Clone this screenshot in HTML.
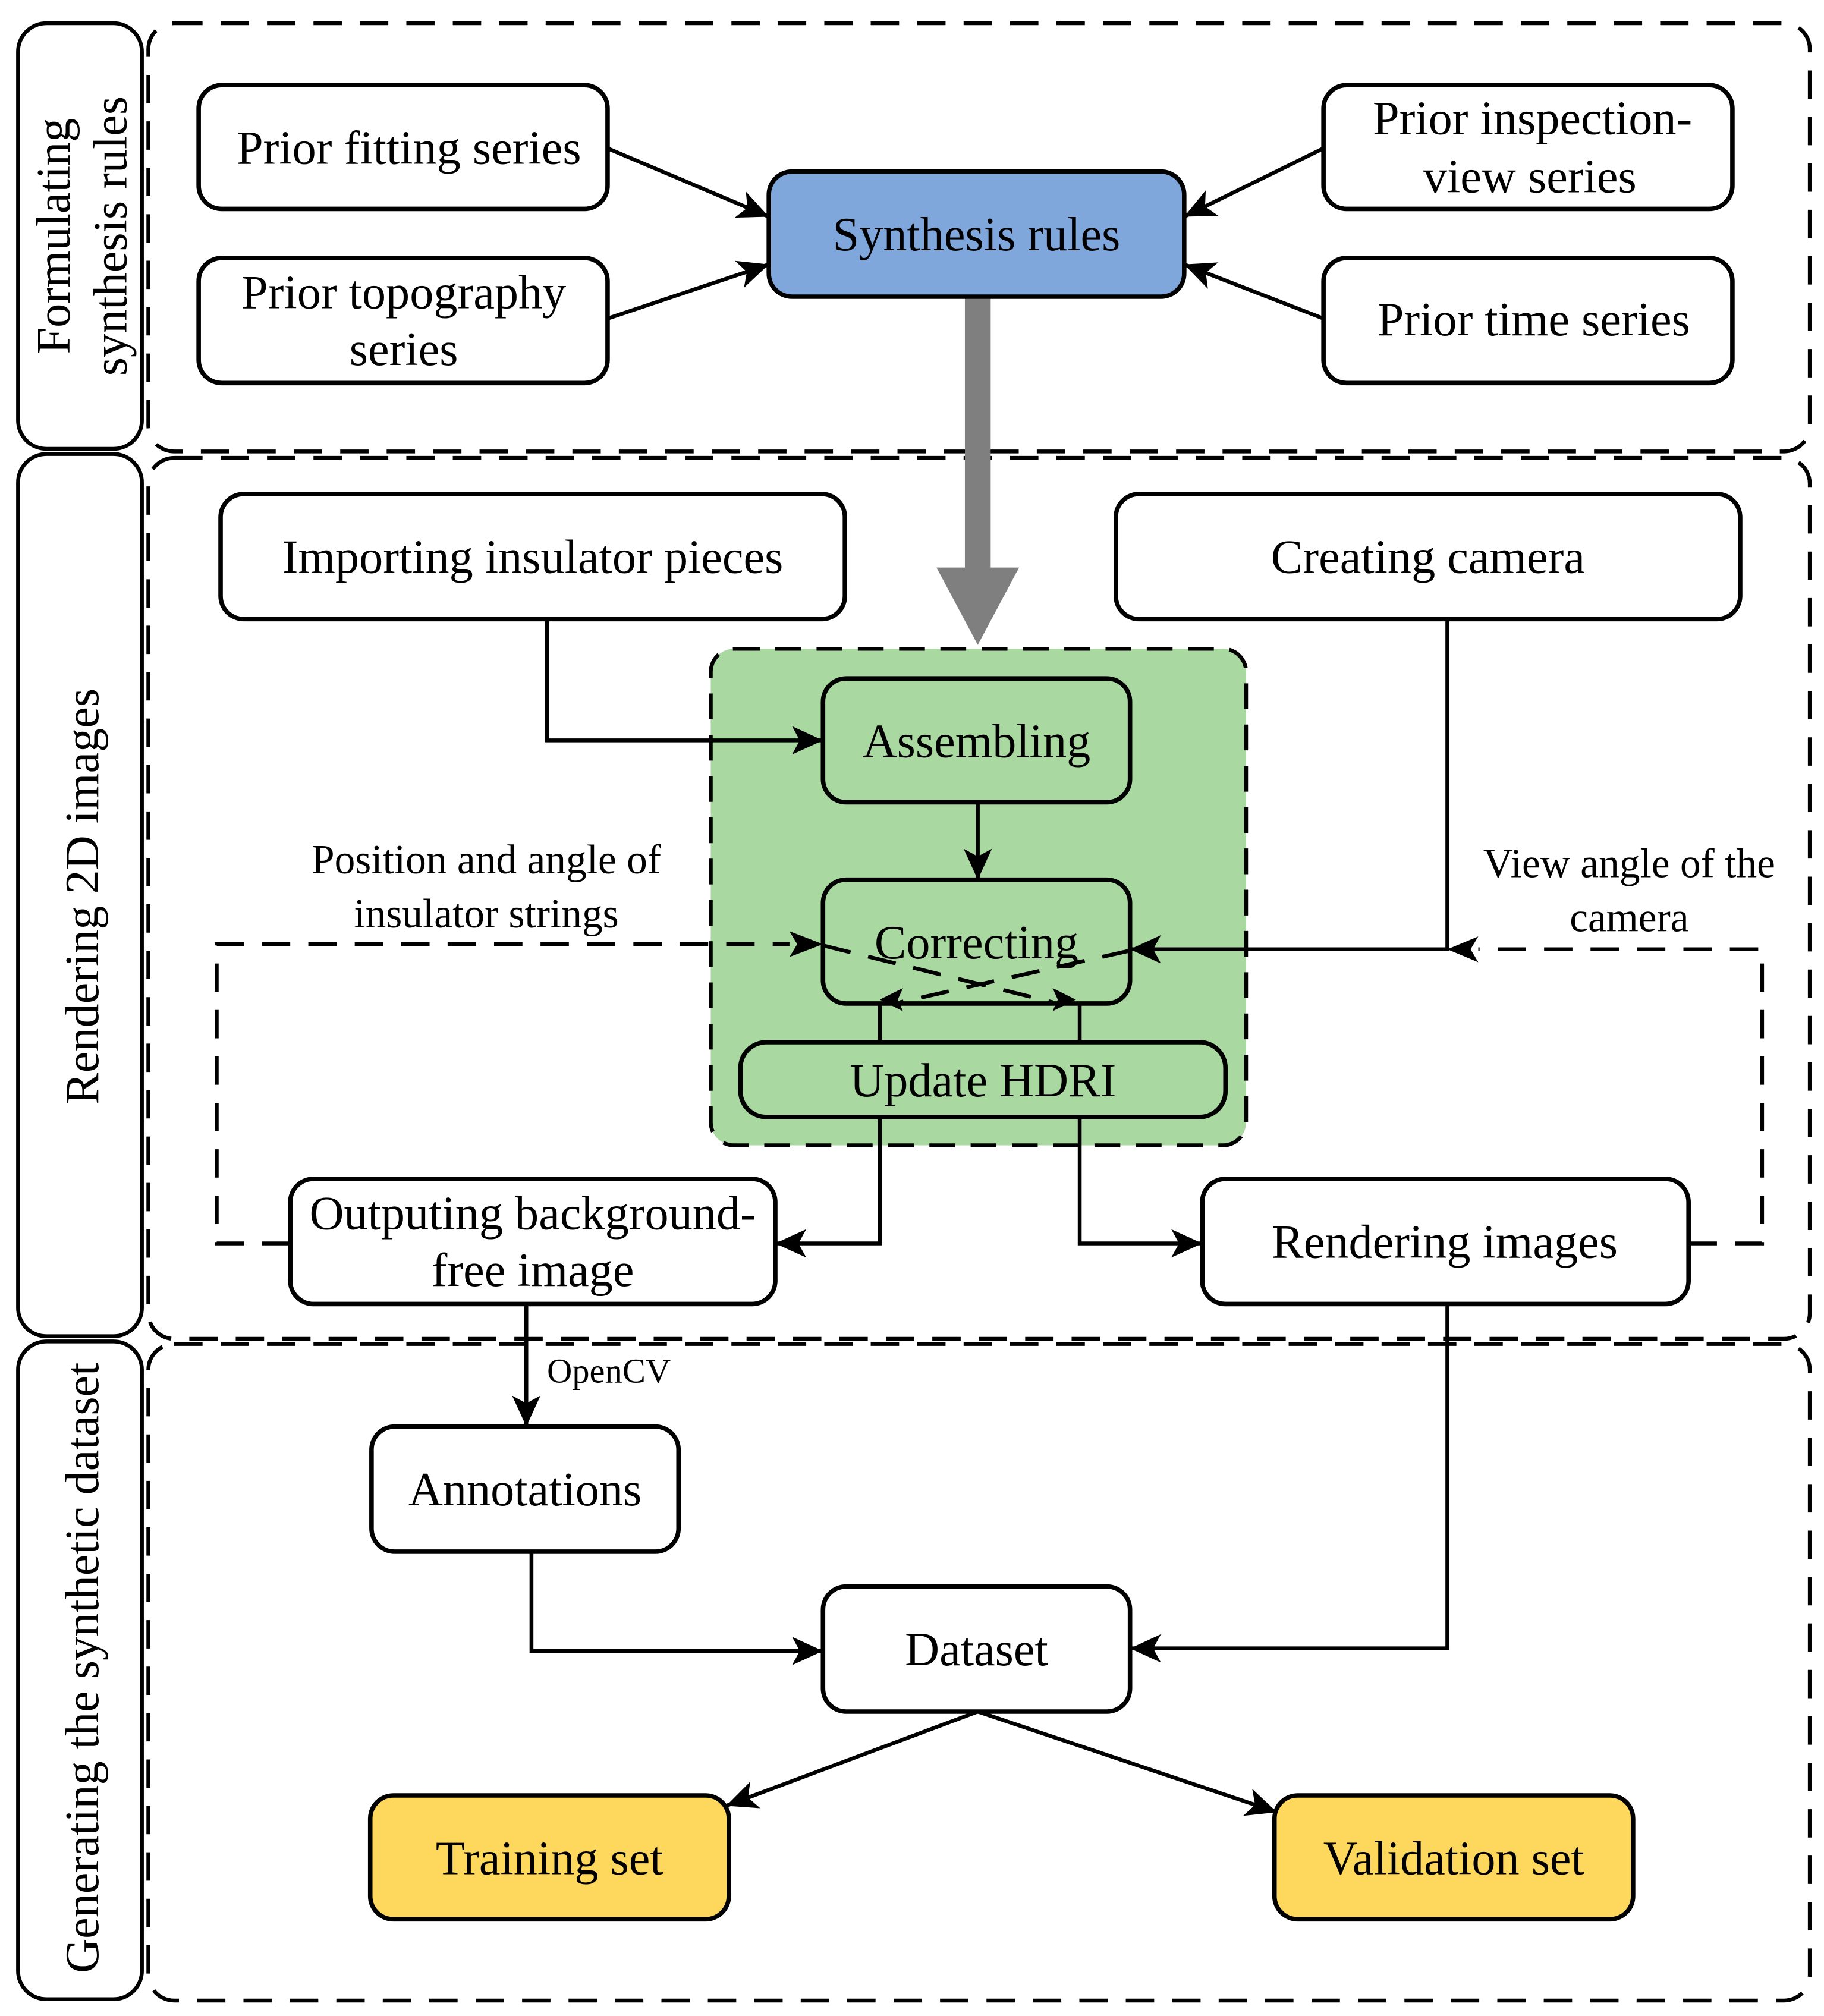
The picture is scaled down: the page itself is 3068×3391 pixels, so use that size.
<!DOCTYPE html>
<html><head><meta charset="utf-8"><style>
html,body{margin:0;padding:0;background:#fff;}
svg{display:block;}
text{font-family:"Liberation Serif",serif;fill:#000;}
</style></head><body>
<svg width="3068" height="3391" viewBox="0 0 1414 1563" preserveAspectRatio="none" xmlns="http://www.w3.org/2000/svg">
<defs>
<marker id="a" markerUnits="userSpaceOnUse" markerWidth="26" markerHeight="22" refX="24" refY="11" orient="auto">
<path d="M0,0 L24,11 L0,22 L6,11 z" fill="#000"/>
</marker>
</defs>
<g fill="none" stroke="#000" stroke-width="3">
<rect x="14" y="18" width="96" height="330" rx="22"/>
<rect x="14" y="352" width="96" height="684" rx="22"/>
<rect x="14" y="1040" width="96" height="510" rx="22"/>
</g>
<g fill="none" stroke="#000" stroke-width="3" stroke-dasharray="22,14">
<rect x="115" y="18" width="1288" height="332" rx="20"/>
<rect x="115" y="355" width="1288" height="683" rx="20"/>
<rect x="115" y="1042" width="1288" height="509" rx="20"/>
</g>
<g font-size="37" text-anchor="middle">
<text transform="translate(54,183) rotate(-90)">Formulating</text>
<text transform="translate(98,183) rotate(-90)">synthesis rules</text>
<text transform="translate(76,695) rotate(-90)">Rendering 2D images</text>
<text transform="translate(76,1293) rotate(-90)">Generating the synthetic dataset</text>
</g>
<rect x="551" y="503" width="415" height="385" rx="18" fill="#a9d9a0" stroke="#000" stroke-width="3" stroke-dasharray="20,12"/>
<rect x="748" y="230" width="20" height="212" fill="#7f7f7f"/>
<path d="M726,440 L790,440 L758,500 z" fill="#7f7f7f"/>
<g stroke="#000" stroke-width="3.5">
<rect x="154" y="66" width="317" height="96" rx="18" fill="#fff"/>
<rect x="154" y="200" width="317" height="97" rx="18" fill="#fff"/>
<rect x="1026" y="66" width="317" height="96" rx="18" fill="#fff"/>
<rect x="1026" y="200" width="317" height="97" rx="18" fill="#fff"/>
<rect x="596" y="133" width="322" height="97" rx="18" fill="#7fa7dc"/>
<rect x="171" y="383" width="484" height="97" rx="18" fill="#fff"/>
<rect x="865" y="383" width="484" height="97" rx="18" fill="#fff"/>
<rect x="638" y="526" width="238" height="96" rx="18" fill="#a9d9a0"/>
<rect x="638" y="682" width="238" height="96" rx="18" fill="#a9d9a0"/>
<rect x="574" y="808" width="376" height="58" rx="20" fill="#a9d9a0"/>
<rect x="225" y="914" width="376" height="97" rx="18" fill="#fff"/>
<rect x="932" y="914" width="377" height="97" rx="18" fill="#fff"/>
<rect x="288" y="1106" width="238" height="97" rx="18" fill="#fff"/>
<rect x="638" y="1230" width="238" height="97" rx="18" fill="#fff"/>
<rect x="287" y="1392" width="278" height="96" rx="18" fill="#fdd85d"/>
<rect x="988" y="1392" width="278" height="96" rx="18" fill="#fdd85d"/>
</g>
<g fill="none" stroke="#000" stroke-width="3">
<path d="M471,115 L596,168" marker-end="url(#a)"/>
<path d="M471,247 L596,205" marker-end="url(#a)"/>
<path d="M1026,115 L918,168" marker-end="url(#a)"/>
<path d="M1026,247 L918,205" marker-end="url(#a)"/>
<path d="M424,480 L424,574 L638,574" marker-end="url(#a)"/>
<path d="M758,622 L758,682" marker-end="url(#a)"/>
<path d="M1122,480 L1122,736 L876,736" marker-end="url(#a)"/>
<path d="M682,808 L682,778"/>
<path d="M837,808 L837,778"/>
<path d="M682,866 L682,964 L601,964" marker-end="url(#a)"/>
<path d="M837,866 L837,964 L932,964" marker-end="url(#a)"/>
<path d="M408,1011 L408,1106" marker-end="url(#a)"/>
<path d="M412,1203 L412,1280 L638,1280" marker-end="url(#a)"/>
<path d="M1122,1011 L1122,1278 L876,1278" marker-end="url(#a)"/>
<path d="M758,1327 L563,1400" marker-end="url(#a)"/>
<path d="M758,1327 L990,1405" marker-end="url(#a)"/>
</g>
<g fill="none" stroke="#000" stroke-width="3" stroke-dasharray="22,14">
<path d="M225,964 L168,964 L168,732 L612,732"/>
<path d="M1309,964 L1366,964 L1366,736 L1146,736"/>
<path d="M638,733 L816,777"/>
<path d="M876,737 L698,777"/>
</g>
<path d="M612,722 L638,732 L612,742 L618,732 z" fill="#000"/>
<path d="M1146,726 L1122,736 L1146,746 L1140,736 z" fill="#000"/>
<path d="M700,766 L682,775 L700,784 L696,775 z" fill="#000"/>
<path d="M816,766 L834,775 L816,784 L820,775 z" fill="#000"/>
<g font-size="37" text-anchor="middle">
<text x="317" y="127">Prior fitting series</text>
<text x="313" y="239">Prior topography</text>
<text x="313" y="283">series</text>
<text x="1188" y="104">Prior inspection-</text>
<text x="1186" y="149">view series</text>
<text x="1189" y="260">Prior time series</text>
<text x="757" y="194">Synthesis rules</text>
<text x="413" y="444">Importing insulator pieces</text>
<text x="1107" y="444">Creating camera</text>
<text x="757" y="587">Assembling</text>
<text x="757" y="743">Correcting</text>
<text x="762" y="850">Update  HDRI</text>
<text x="413" y="953">Outputing background-</text>
<text x="413" y="997">free image</text>
<text x="1120" y="975">Rendering images</text>
<text x="407" y="1167">Annotations</text>
<text x="757" y="1291">Dataset</text>
<text x="426" y="1453">Training set</text>
<text x="1127" y="1453">Validation set</text>
</g>
<g font-size="32" text-anchor="middle">
<text x="377" y="677">Position and angle of</text>
<text x="377" y="719">insulator strings</text>
<text x="1263" y="680">View angle of the</text>
<text x="1263" y="722">camera</text>
</g>
<text x="424" y="1072" font-size="27">OpenCV</text>
</svg>
</body></html>
